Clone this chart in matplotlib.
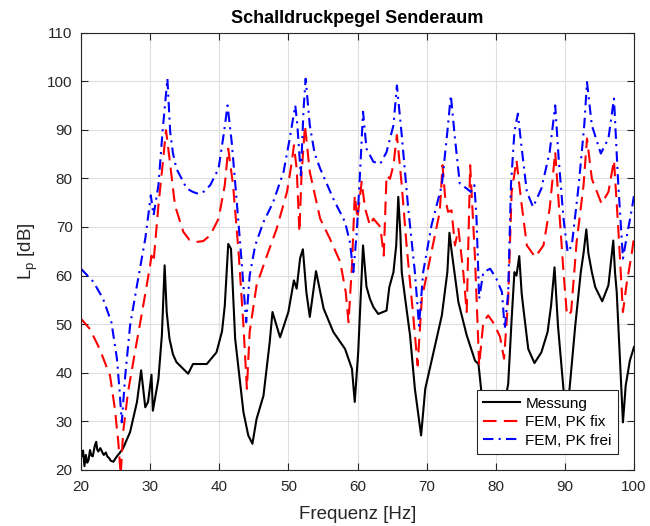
import numpy as np
import matplotlib
matplotlib.use('Agg')
from matplotlib import pyplot as plt

plt.rcParams['font.family'] = ['Liberation Sans', 'DejaVu Sans']
plt.rcParams['mathtext.default'] = 'regular'

# Messung
f_mess = [20, 20.1, 20.3, 20.5, 20.7, 20.9, 21.1, 21.3, 21.5, 21.7, 22.0, 22.2, 22.35, 22.5,
          22.8, 23.1, 23.3, 23.6, 23.8, 24.1, 24.3, 24.7, 25.0, 25.2, 25.6, 26.1, 26.8, 27.1,
          28.1, 28.7, 29.3, 29.7, 30.2, 30.4, 31.2, 31.7, 32.1, 32.4, 32.8, 33.3, 33.8, 35.5,
          36.2, 38.2, 39.6, 40.4, 40.8, 41.3, 41.7, 42.3, 43.5, 44.2, 44.8, 45.4, 46.4, 47.3,
          47.7, 48.8, 50.0, 50.8, 51.2, 51.7, 52.1, 52.6, 53.1, 54.0, 55.1, 56.5, 58.2, 59.2,
          59.6, 60.1, 60.8, 61.3, 61.8, 62.3, 63.0, 64.2, 64.6, 65.2, 65.6, 65.9, 66.2, 66.4,
          66.9, 67.6, 68.3, 69.2, 69.8, 71.0, 72.2, 73.0, 73.3, 73.6, 74.6, 75.8, 77.0, 77.5,
          78.0, 79.5, 80.5, 81.8, 82.3, 82.7, 83.0, 83.4, 83.75, 84.0, 84.7, 85.6, 86.6, 87.5,
          88.0, 88.5, 88.8, 89.0, 89.7, 90.2, 90.7, 91.5, 92.3, 92.7, 93.1, 93.4, 93.9, 94.4,
          95.4, 96.3, 97.0, 97.25, 97.5, 98.0, 98.4, 98.8, 99.4, 100]
L_mess = [23.1, 22.8, 24.0, 20.8, 23.1, 21.5, 22.1, 24.1, 23.0, 22.8, 25.0, 25.8, 24.2, 23.8,
          24.5, 23.6, 23.1, 23.6, 22.8, 22.4, 21.9, 21.7, 22.4, 22.8, 23.5, 24.5, 26.8, 27.8,
          34.0, 40.5, 32.9, 34.0, 39.6, 32.2, 38.7, 47.7, 62.1, 52.5, 47.0, 43.8, 42.2, 39.8,
          41.8, 41.8, 44.2, 48.5, 53.8, 66.5, 65.5, 47.0, 31.9, 27.1, 25.4, 30.5, 35.3, 46.3,
          52.5, 47.3, 52.5, 59.0, 57.3, 63.6, 65.4, 56.6, 51.5, 60.9, 53.2, 48.4, 44.9, 40.8,
          34.0, 44.2, 66.2, 57.7, 55.2, 53.5, 52.1, 52.8, 57.6, 60.7, 66.2, 76.2, 68.7, 60.7,
          55.2, 47.7, 36.7, 27.1, 36.7, 44.2, 51.8, 60.7, 68.8, 65.2, 54.5, 47.7, 42.5, 41.8,
          35.0, 26.0, 28.0, 37.7, 51.1, 60.7, 60.0, 64.0, 56.3, 53.2, 44.9, 42.0, 44.2, 48.4,
          53.8, 61.7, 54.3, 49.7, 38.1, 30.0, 37.1, 49.7, 60.7, 64.6, 69.5, 64.6, 60.7, 57.6,
          54.7, 58.0, 67.2, 60.7, 56.6, 41.5, 29.8, 37.4, 42.5, 45.3]

# FEM, Plattenkante fix
f_fix = [20, 21.3, 22.7, 24.2, 24.9, 25.4, 25.75, 26.1, 26.8, 27.8, 29.0, 30.0, 30.2, 30.5,
         31.2, 31.9, 32.3, 32.8, 33.6, 34.8, 35.7, 36.7, 37.7, 38.7, 39.9, 40.8, 41.3, 42.0,
         42.8, 43.5, 44.0, 44.4, 45.4, 46.9, 48.3, 49.8, 50.5, 50.8, 51.2, 51.6, 51.9, 52.4,
         53.1, 54.6, 56.0, 57.5, 58.3, 58.7, 59.2, 59.6, 60.0, 60.6, 61.1, 61.8, 62.3, 63.3,
         63.8, 64.2, 64.7, 65.2, 65.7, 66.4, 67.1, 68.1, 68.7, 69.3, 70.5, 71.9, 72.3, 72.7,
         73.1, 73.6, 74.1, 74.6, 75.3, 75.8, 76.3, 77.0, 77.6, 78.2, 78.9, 79.6, 80.6, 81.2,
         81.8, 82.3, 83.0, 83.7, 84.5, 85.7, 86.9, 87.8, 88.6, 89.1, 89.8, 90.3, 90.9, 91.7,
         92.7, 93.2, 93.9, 95.3, 96.3, 97.1, 97.7, 98.4, 98.9, 99.7, 100]
L_fix = [51.1, 49.0, 44.9, 39.4, 32.6, 25.7, 19.0, 27.8, 36.0, 44.2, 53.8, 62.1, 64.1, 62.8,
         74.4, 84.1, 89.9, 84.1, 74.4, 69.0, 67.3, 66.9, 67.1, 68.3, 71.7, 78.6, 86.1, 78.6,
         64.8, 49.7, 36.7, 48.4, 58.0, 64.1, 69.6, 77.2, 83.4, 86.8, 82.0, 69.0, 80.6, 90.9,
         81.3, 71.7, 67.6, 62.8, 56.6, 50.4, 62.1, 76.5, 71.7, 79.3, 73.8, 70.3, 71.7, 70.0,
         64.1, 80.6, 79.9, 82.7, 88.9, 78.6, 66.2, 51.1, 41.5, 55.2, 63.5, 73.1, 82.7, 75.8,
         73.1, 73.4, 66.2, 69.6, 60.7, 52.5, 82.7, 63.5, 41.5, 50.4, 51.8, 50.4, 47.5, 42.9,
         55.2, 77.2, 83.7, 75.1, 66.2, 63.8, 66.2, 73.8, 85.4, 75.1, 60.7, 51.8, 52.5, 66.9,
         78.6, 88.2, 79.9, 74.8, 77.2, 83.7, 70.3, 52.5, 58.0, 64.8, 67.9]

# FEM, Plattenkante frei
f_frei = [20, 21.8, 23.2, 24.4, 25.2, 25.6, 25.9, 26.4, 27.1, 28.1, 29.3, 30.1, 30.5, 31.2,
          31.8, 32.5, 32.9, 33.3, 33.8, 35.3, 36.2, 37.0, 37.8, 38.7, 39.9, 40.7, 41.2, 41.8,
          42.5, 43.2, 43.9, 44.4, 45.2, 46.4, 47.8, 49.3, 50.2, 51.0, 51.3, 51.8, 52.2, 52.5,
          53.1, 53.8, 54.6, 56.5, 58.2, 58.9, 59.4, 59.9, 60.4, 60.8, 61.3, 62.3, 63.3, 64.2,
          65.2, 65.7, 66.4, 67.3, 68.3, 68.9, 69.5, 70.7, 72.2, 73.0, 73.5, 74.1, 74.8, 75.8,
          76.4, 76.9, 77.2, 77.6, 78.2, 79.2, 80.1, 80.9, 81.3, 81.8, 82.2, 82.7, 83.2, 83.7,
          84.5, 85.4, 86.6, 87.8, 88.6, 89.1, 89.8, 90.4, 91.0, 92.0, 92.8, 93.2, 93.9, 95.2,
          96.3, 97.1, 97.7, 98.4, 98.9, 99.7, 100]
L_frei = [61.4, 58.7, 55.2, 50.4, 42.9, 36.0, 29.8, 39.4, 49.7, 58.0, 67.6, 76.5, 72.4, 78.6,
          89.6, 100.5, 89.6, 85.2, 82.0, 77.9, 77.2, 76.8, 77.3, 78.6, 82.0, 89.6, 95.0, 87.5,
          75.8, 63.5, 50.4, 60.0, 66.2, 71.0, 75.1, 81.3, 88.2, 95.0, 90.9, 80.6, 94.3, 100.5,
          90.9, 85.1, 82.0, 75.8, 71.0, 66.9, 60.7, 69.0, 82.0, 93.7, 86.1, 83.4, 83.0, 85.4,
          90.9, 99.1, 88.9, 74.4, 60.7, 49.7, 60.7, 70.3, 78.6, 89.6, 97.1, 88.2, 78.9, 77.9,
          77.2, 78.6, 72.4, 55.2, 60.7, 61.4, 59.3, 56.6, 49.0, 56.6, 78.6, 89.6, 93.3, 86.8,
          77.2, 74.1, 77.9, 85.4, 95.0, 84.1, 71.7, 64.8, 66.2, 78.6, 90.9, 99.8, 90.9, 85.1,
          88.2, 96.4, 79.3, 63.5, 67.6, 73.8, 76.5]

fig = plt.figure(figsize=(6.5, 5.26), dpi=100)
ax = fig.add_axes([0.1246, 0.1065, 0.8508, 0.8317])

ax.plot(f_mess, L_mess, color='k', lw=1.5, label='Messung')
ax.plot(f_fix, L_fix, color='r', lw=1.5, ls=(0, (6.5, 3.5)), label='FEM, PK fix')
ax.plot(f_frei, L_frei, color='b', lw=1.5, ls=(0, (5, 2.5, 1, 2.5)), label='FEM, PK frei')

ax.set_xlim(20, 100)
ax.set_ylim(20, 110)
ax.set_xticks(np.arange(20, 101, 10))
ax.set_yticks(np.arange(20, 111, 10))
ax.grid(True, color='#dedede', lw=0.8)
ax.set_axisbelow(True)
ax.tick_params(direction='in', top=True, right=True, length=5, labelsize=11,
               colors='#262626')
ax.tick_params(axis='x', pad=7)
ax.tick_params(axis='y', pad=6)
for s in ax.spines.values():
    s.set_color('#262626')
    s.set_linewidth(0.8)

ax.set_title('Schalldruckpegel Senderaum', fontsize=13, fontweight='bold', pad=7)
ax.set_xlabel('Frequenz [Hz]', fontsize=13.5, color='#262626', labelpad=9)
ax.set_ylabel('L$_\\mathregular{p}$ [dB]', fontsize=13.5, color='#262626', labelpad=5)

leg = ax.legend(loc='lower right', bbox_to_anchor=(0.971, 0.037), fontsize=11,
                handlelength=2.4, framealpha=1, fancybox=False, edgecolor='#262626',
                borderpad=0.4, labelspacing=0.3, handletextpad=0.35, borderaxespad=0)
leg.get_frame().set_linewidth(0.8)

fig.savefig('out.png', dpi=100)
